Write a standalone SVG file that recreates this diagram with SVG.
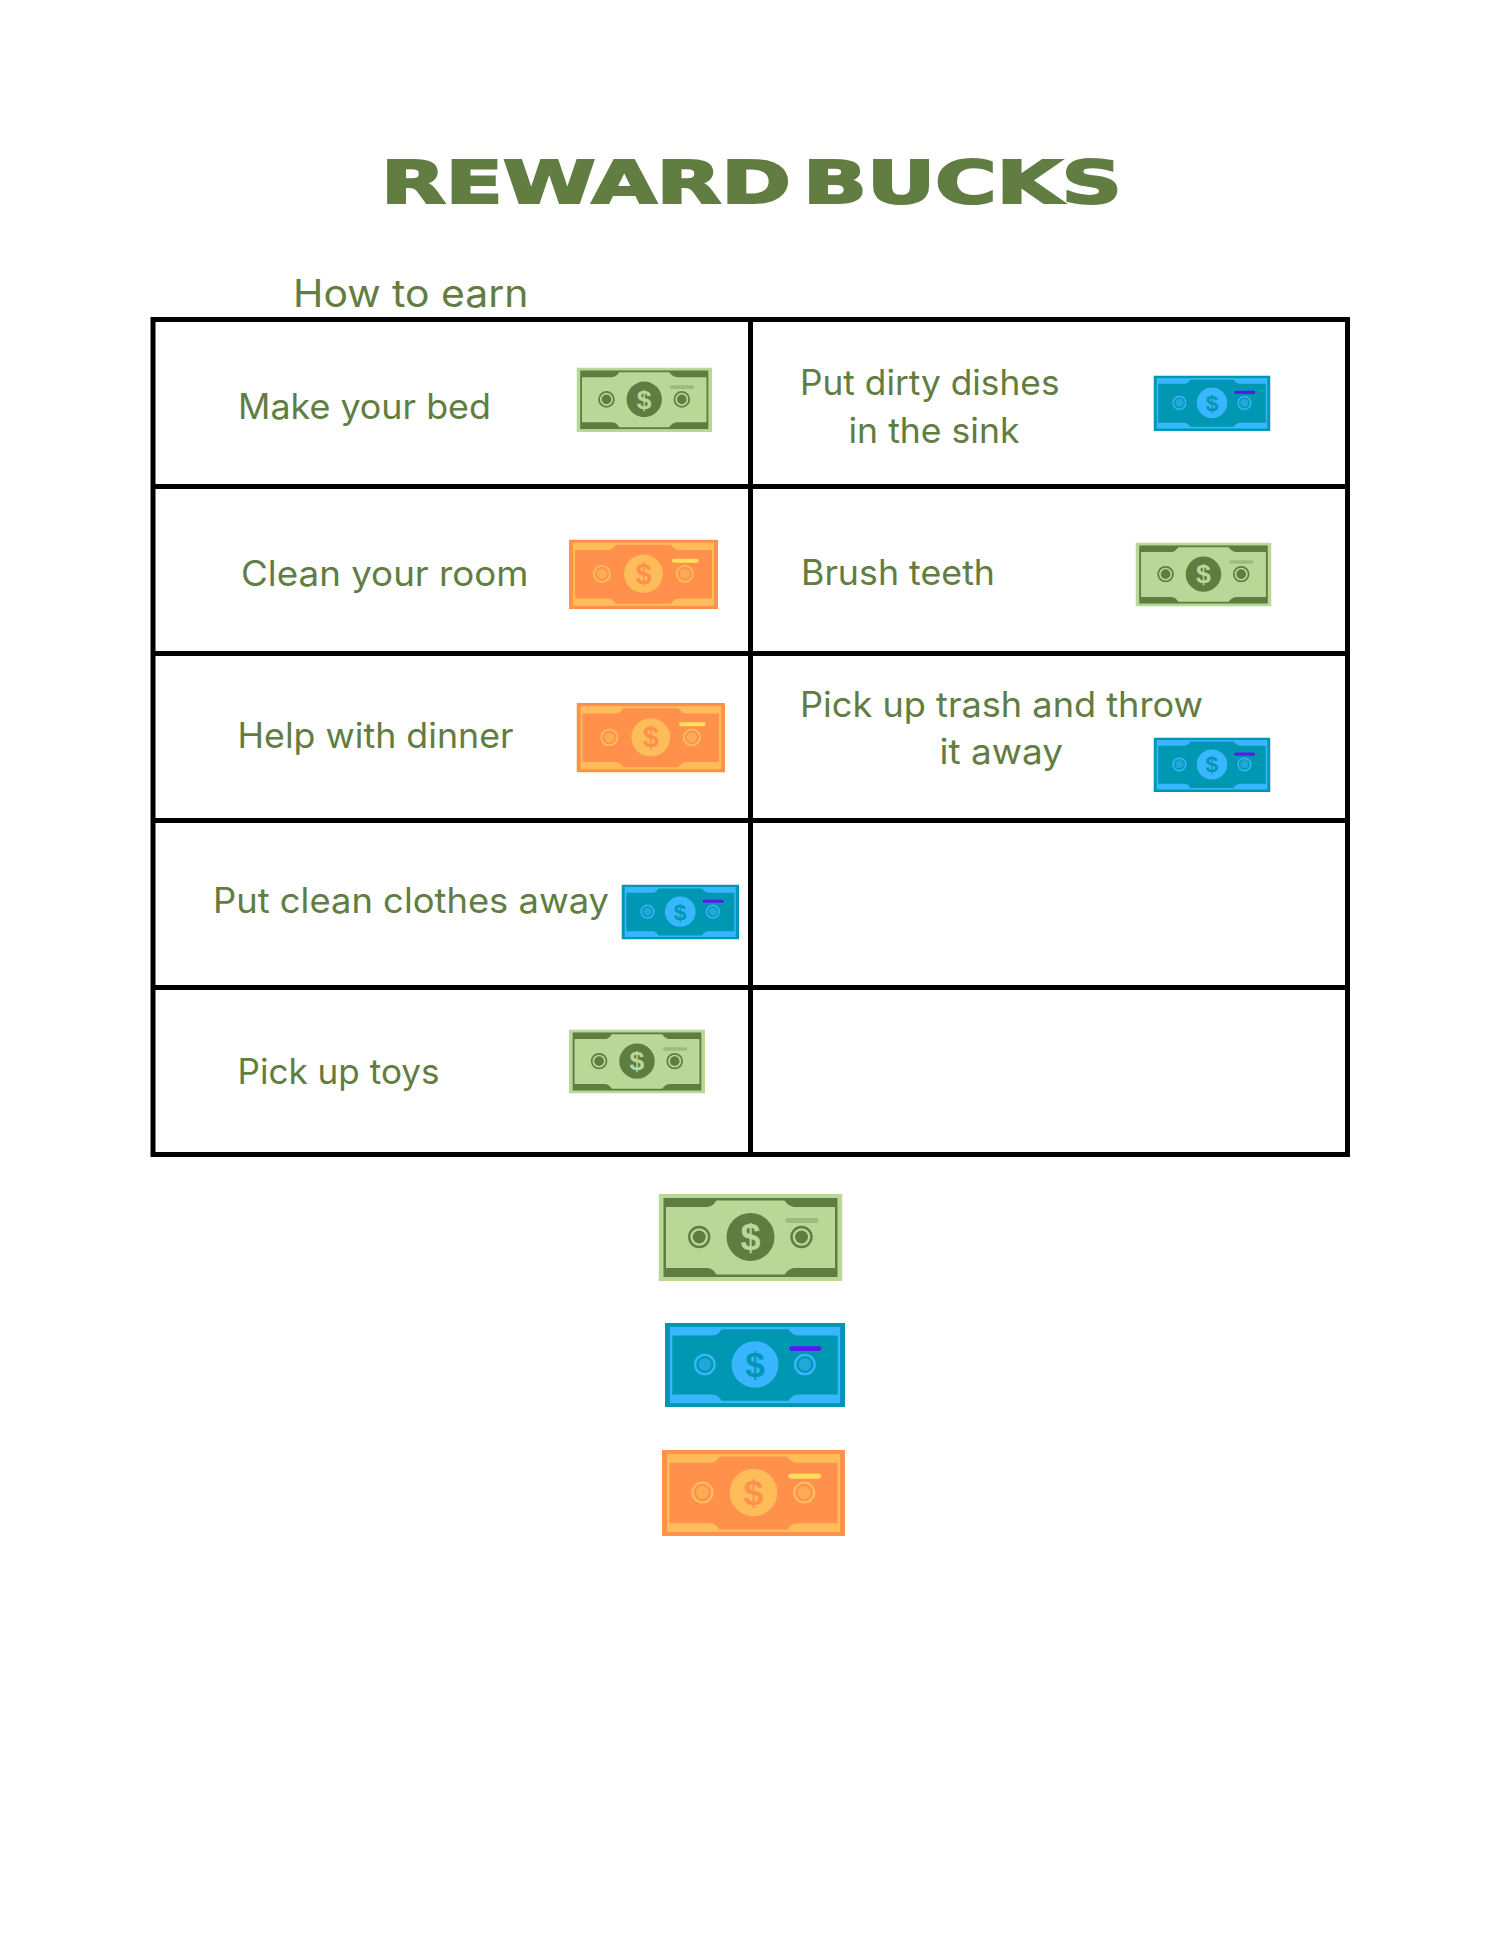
<svg xmlns="http://www.w3.org/2000/svg" width="1500" height="1941" viewBox="0 0 1500 1941">
<style>
text{font-family:"Inter","Liberation Sans",sans-serif;fill:#617d41;font-size:35px}
.title{font-family:"DejaVu Sans","Liberation Sans",sans-serif;font-weight:700;font-size:59px;stroke:#617d41;stroke-width:2.2px;word-spacing:-12px}
.h{font-size:38px}
.a{fill:var(--a)}.b{fill:var(--b)}.c{fill:var(--c)}.e{fill:var(--e)}
.ring{fill:none;stroke:var(--b);stroke-width:2.4}
.d{font-family:"Liberation Sans",sans-serif;font-weight:700;font-size:36px;fill:var(--a)}
.green{--a:#b9d898;--b:#5f7d40;--c:#9dbb7e;--e:#5f7d40}
.blue{--a:#0097b2;--b:#38b6ff;--c:#5e17eb;--e:#1fa8d8}
.orange{--a:#ff914d;--b:#ffbd59;--c:#ffde59;--e:#ffab55}
.line{stroke:#000;stroke-width:5;fill:none}
</style>
<defs>
<symbol id="bill" viewBox="0 0 184 87" preserveAspectRatio="none">
<rect class="a" width="184" height="87"/>
<rect class="b" x="5" y="4" width="174" height="79"/>
<path class="a" d="M7.5 13H48C54 13 56 9 58 6.5H126C128 9 131 13 137 13H176.5V74H137C131 74 128 78 126 80.5H58C56 78 54 74 48 74H7.5Z"/>
<circle class="b" cx="92" cy="43" r="24"/>
<text class="d" x="92" y="55.500" text-anchor="middle">$</text>
<circle class="ring" cx="40.700" cy="43" r="10"/><circle class="e" cx="40.700" cy="43" r="6.500"/>
<circle class="ring" cx="143" cy="43" r="10"/><circle class="e" cx="143" cy="43" r="6.500"/>
<rect class="c" x="127" y="24" width="33" height="5" rx="2.500"/>
</symbol>
</defs>
<rect width="1500" height="1941" fill="#fff"/>
<g id="title"><text class="title" x="381" y="203" textLength="741" lengthAdjust="spacingAndGlyphs">REWARD BUCKS</text></g>
<g id="subtitle"><text class="h" x="293" y="306.500" textLength="235.500" lengthAdjust="spacingAndGlyphs">How to earn</text></g>
<g id="table">
<rect class="line" x="153" y="319.500" width="1194.500" height="835"/>
<path class="line" d="M750.500 319.500V1154.500M153 486.500H1347.500M153 653.500H1347.500M153 820.500H1347.500M153 987.500H1347.500"/>
</g>
<g id="item-bed"><text x="238" y="418.500" textLength="253" lengthAdjust="spacingAndGlyphs">Make your bed</text><use class="green" href="#bill" x="576.500" y="367.500" width="135.500" height="64.500"/></g>
<g id="item-dishes"><text x="800" y="395" textLength="259.500" lengthAdjust="spacingAndGlyphs">Put dirty dishes</text><text x="848.500" y="443" textLength="171" lengthAdjust="spacingAndGlyphs">in the sink</text><use class="blue" href="#bill" x="1153.500" y="375.500" width="117" height="55.500"/></g>
<g id="item-room"><text x="241" y="585.500" textLength="287.500" lengthAdjust="spacingAndGlyphs">Clean your room</text><use class="orange" href="#bill" x="569" y="539.500" width="149" height="69.500"/></g>
<g id="item-teeth"><text x="801" y="585" textLength="194" lengthAdjust="spacingAndGlyphs">Brush teeth</text><use class="green" href="#bill" x="1135.500" y="542.500" width="136" height="64"/></g>
<g id="item-dinner"><text x="237.500" y="748" textLength="276" lengthAdjust="spacingAndGlyphs">Help with dinner</text><use class="orange" href="#bill" x="576.500" y="703" width="148.500" height="69.500"/></g>
<g id="item-trash"><text x="800" y="716.500" textLength="403" lengthAdjust="spacingAndGlyphs">Pick up trash and throw</text><text x="939.500" y="764" textLength="123.500" lengthAdjust="spacingAndGlyphs">it away</text><use class="blue" href="#bill" x="1153.500" y="737.500" width="117" height="54.500"/></g>
<g id="item-clothes"><text x="213" y="913" textLength="396" lengthAdjust="spacingAndGlyphs">Put clean clothes away</text><use class="blue" href="#bill" x="621.500" y="884.500" width="117.500" height="55"/></g>
<g id="item-toys"><text x="237.500" y="1084" textLength="202" lengthAdjust="spacingAndGlyphs">Pick up toys</text><use class="green" href="#bill" x="569" y="1029.500" width="136" height="64"/></g>
<g id="legend-green"><use class="green" href="#bill" x="658.500" y="1194" width="184" height="87"/></g>
<g id="legend-blue"><use class="blue" href="#bill" x="665" y="1323" width="180" height="84"/></g>
<g id="legend-orange"><use class="orange" href="#bill" x="662" y="1450" width="183" height="86"/></g>
</svg>
